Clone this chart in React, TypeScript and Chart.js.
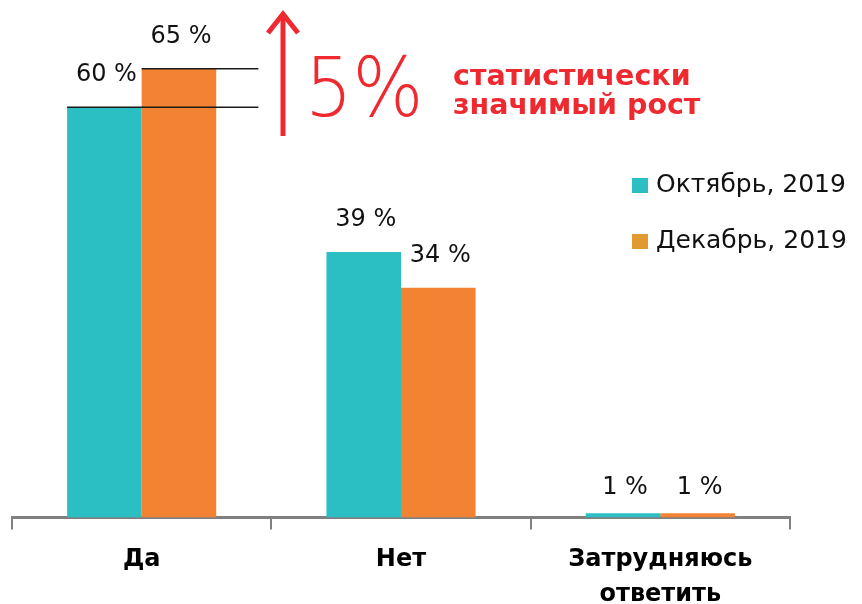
import React, { useEffect, useRef } from "react";
import { Chart, registerables } from "chart.js";

Chart.register(...registerables);

const categories: (string | string[])[] = ["Да", "Нет", ["Затрудняюсь", "ответить"]];
const seriesNames = ["Октябрь, 2019", "Декабрь, 2019"];
const october = [59.8, 38.7, 0.6];
const december = [65.4, 33.5, 0.6];
const octoberLabels = ["60 %", "39 %", "1 %"];
const decemberLabels = ["65 %", "34 %", "1 %"];
const barColors = ["#2BBFC4", "#F38232"];
const legendColors = ["#2BBFC4", "#E09A30"];
const RED = "#EE2A30";

const overlayPlugin = {
  id: "overlay",
  afterDatasetsDraw(chart: any) {
    const ctx = chart.ctx;
    const labels = [octoberLabels, decemberLabels];
    ctx.save();
    const m0 = chart.getDatasetMeta(0).data[0];
    const m1 = chart.getDatasetMeta(1).data[0];
    const xs = chart.scales.x;
    const catW = xs.width / categories.length;
    const lineEnd = xs.getPixelForValue(0) + catW * 0.45;
    ctx.strokeStyle = "#1a1a1a";
    ctx.lineWidth = 1.5;
    ctx.beginPath();
    ctx.moveTo(m1.x - m1.width / 2, m1.y);
    ctx.lineTo(lineEnd, m1.y);
    ctx.moveTo(m0.x - m0.width / 2, m0.y);
    ctx.lineTo(lineEnd, m0.y);
    ctx.stroke();
    ctx.fillStyle = "#111";
    ctx.font = "24px 'DejaVu Sans'";
    ctx.textAlign = "center";
    ctx.textBaseline = "middle";
    for (let d = 0; d < 2; d++) {
      const meta = chart.getDatasetMeta(d);
      meta.data.forEach((bar: any, i: number) => {
        const off = bar.base - bar.y < 10 ? 26 : 32;
        ctx.fillText(labels[d][i], bar.x + 2, bar.y - off);
      });
    }
    ctx.restore();
  },
  afterDraw(chart: any) {
    const ctx = chart.ctx;
    ctx.save();
    ctx.strokeStyle = RED;
    ctx.lineWidth = 5;
    ctx.lineCap = "butt";
    ctx.beginPath();
    ctx.moveTo(283, 136);
    ctx.lineTo(283, 14);
    ctx.stroke();
    ctx.beginPath();
    ctx.moveTo(268, 33);
    ctx.lineTo(283, 14);
    ctx.lineTo(298, 33);
    ctx.stroke();
    ctx.fillStyle = RED;
    ctx.textAlign = "left";
    ctx.textBaseline = "alphabetic";
    ctx.font = "200 82px 'DejaVu Sans'";
    ctx.save();
    ctx.translate(305, 116);
    ctx.scale(0.91, 1);
    ctx.fillText("5%", 0, 0);
    ctx.restore();
    ctx.font = "bold 28.5px 'DejaVu Sans'";
    ctx.fillText("статистически", 453, 85);
    ctx.fillText("значимый рост", 453, 114);
    const ys = [185, 241];
    ctx.font = "25px 'DejaVu Sans'";
    ctx.textBaseline = "middle";
    ys.forEach((y, i) => {
      ctx.fillStyle = legendColors[i];
      ctx.fillRect(632, y - 7, 16, 15);
      ctx.fillStyle = "#111";
      ctx.fillText(seriesNames[i], 656, y);
    });
    ctx.restore();
  },
};

export default function App() {
  const ref = useRef<HTMLCanvasElement>(null);
  useEffect(() => {
    const chart = new Chart(ref.current!, {
      type: "bar",
      data: {
        labels: categories,
        datasets: [
          { label: seriesNames[0], data: october, backgroundColor: barColors[0] },
          { label: seriesNames[1], data: december, backgroundColor: barColors[1] },
        ],
      },
      options: {
        animation: false,
        responsive: false,
        devicePixelRatio: 1,
        layout: { padding: { left: 12, right: 72, top: 3, bottom: 0 } },
        plugins: { legend: { display: false }, tooltip: { enabled: false } },
        datasets: { bar: { categoryPercentage: 0.575, barPercentage: 1 } },
        scales: {
          x: {
            afterFit: (scale: any) => {
              scale.height -= 21;
            },
            border: { display: true, color: "#808080", width: 3 },
            grid: {
              display: true,
              drawOnChartArea: false,
              drawTicks: true,
              tickLength: 12,
              color: "#808080",
              lineWidth: 2,
              offset: true,
            },
            ticks: {
              color: "#000",
              font: { family: "'DejaVu Sans'", size: 24, weight: "bold", lineHeight: 1.45 },
              padding: 13,
              maxRotation: 0,
              autoSkip: false,
            },
          },
          y: { display: false, min: 0, max: 75 },
        },
      },
      plugins: [overlayPlugin],
    });
    return () => chart.destroy();
  }, []);
  return (
    <div style={{ position: "absolute", left: 0, top: 0, width: 862, height: 604, overflow: "hidden", background: "#fff" }}>
      <canvas ref={ref} width={862} height={604} />
    </div>
  );
}
